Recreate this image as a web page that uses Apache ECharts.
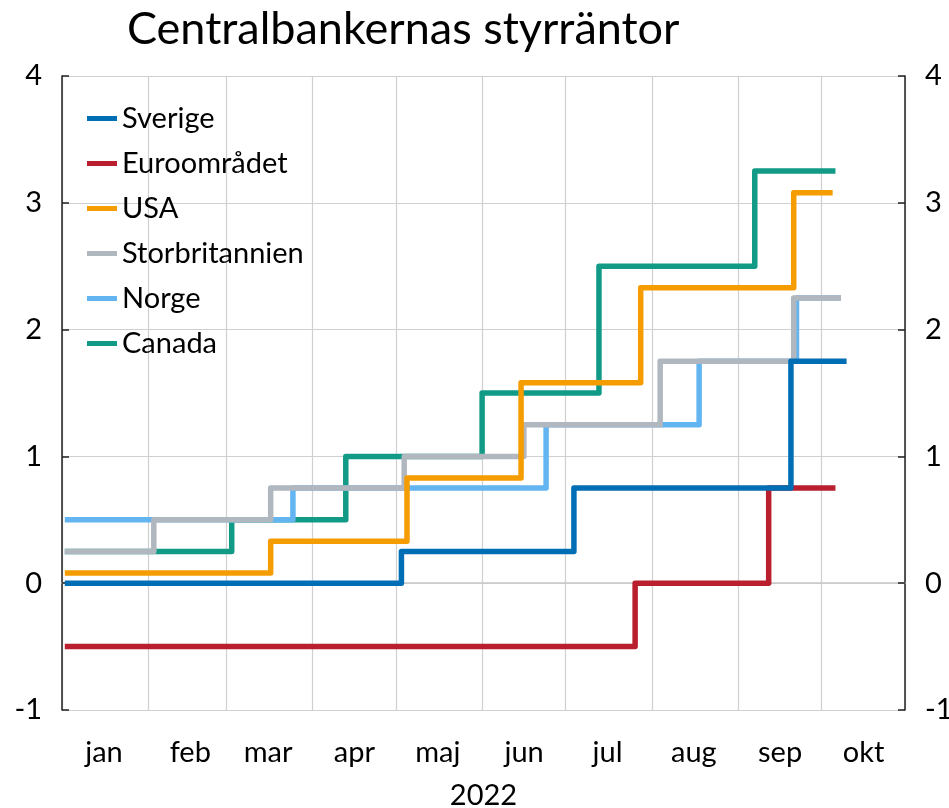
<!DOCTYPE html>
<html>
<head>
<meta charset="utf-8">
<script src="https://cdn.jsdelivr.net/npm/echarts@6/dist/echarts.min.js"></script>
<style>
  html, body { margin: 0; padding: 0; background: #fff; }
  #chart { width: 949px; height: 808px; }
</style>
</head>
<body>
<div id="chart"></div>
<script>
// month labels (Swedish)
const monthLabels = ["jan", "feb", "mar", "apr", "maj", "jun", "jul", "aug", "sep", "okt", "nov", "dec"];
const yTicks = [-1, 0, 1, 2, 3, 4];

// policy rates: date the new rate applies from, and the rate
const sverigeDates = ["2022-01-02", "2022-05-03", "2022-07-04", "2022-09-20", "2022-10-10"];
const sverigeValues = [0, 0.25, 0.75, 1.75, 1.75];

const euroDates = ["2022-01-02", "2022-07-26", "2022-09-12", "2022-10-06"];
const euroValues = [-0.5, 0, 0.75, 0.75];

const usaDates = ["2022-01-02", "2022-03-17", "2022-05-05", "2022-06-15", "2022-07-28", "2022-09-21", "2022-10-05"];
const usaValues = [0.08, 0.33, 0.83, 1.58, 2.33, 3.08, 3.08];

const ukDates = ["2022-01-02", "2022-02-03", "2022-03-17", "2022-05-04", "2022-06-16", "2022-08-04", "2022-09-21", "2022-10-08"];
const ukValues = [0.25, 0.5, 0.75, 1.0, 1.25, 1.75, 2.25, 2.25];

const norgeDates = ["2022-01-02", "2022-03-25", "2022-06-24", "2022-08-18", "2022-09-22", "2022-10-08"];
const norgeValues = [0.5, 0.75, 1.25, 1.75, 2.25, 2.25];

const canadaDates = ["2022-01-02", "2022-03-03", "2022-04-13", "2022-06-01", "2022-07-13", "2022-09-07", "2022-10-06"];
const canadaValues = [0.25, 0.5, 1.0, 1.5, 2.5, 3.25, 3.25];

const FONT = "Lato";

function pairs(dates, values) {
  return dates.map((d, i) => [d, values[i]]);
}

function stepSeries(name, dates, values, color) {
  return {
    name: name,
    type: "line",
    step: "end",
    symbol: "none",
    color: color,
    lineStyle: { width: 5.5, color: color, join: "round", cap: "butt" },
    data: pairs(dates, values),
  };
}

const chart = echarts.init(document.getElementById("chart"));

const yAxisCommon = {
  type: "value",
  min: -1,
  max: 4,
  interval: 1,
  axisLine: { show: true, lineStyle: { color: "#222", width: 1.5 } },
  axisTick: { show: true, inside: true, length: 7, lineStyle: { color: "#222", width: 1.5 } },
  axisLabel: {
    color: "#000",
    fontFamily: FONT,
    fontSize: 29,
    margin: 20,
    formatter: (v) => (yTicks.includes(v) ? String(v) : ""),
  },
};

const option = {
  animation: false,
  backgroundColor: "#fff",
  title: {
    text: "Centralbankernas styrräntor",
    left: 122,
    top: 2,
    textStyle: { fontFamily: FONT, fontSize: 45, fontWeight: "normal", color: "#000" },
  },
  legend: {
    orient: "vertical",
    left: 82,
    top: 99,
    icon: "rect",
    itemWidth: 30,
    itemHeight: 5,
    itemGap: 16,
    data: ["Sverige", "Euroområdet", "USA", "Storbritannien", "Norge", "Canada"],
    textStyle: { fontFamily: FONT, fontSize: 29, color: "#000", lineHeight: 29 },
  },
  grid: { left: 62, right: 44, top: 76, bottom: 98, outerBoundsMode: "none" },
  xAxis: {
    type: "time",
    min: "2022-01-01",
    max: "2022-10-31",
    splitNumber: 10,
    minInterval: 28 * 86400000,
    maxInterval: 31 * 86400000,
    name: "2022",
    nameLocation: "middle",
    nameGap: 71,
    nameTextStyle: { fontFamily: FONT, fontSize: 29, color: "#000" },
    axisLine: { show: true, lineStyle: { color: "#c8c8c8", width: 1.5 } },
    axisTick: { show: false },
    splitLine: { show: true, lineStyle: { color: "#d0d0d0", width: 1.2 } },
    axisLabel: {
      color: "#000",
      fontFamily: FONT,
      fontSize: 29,
      margin: 28,
      showMaxLabel: false,
      padding: [0, 0, 0, 84],
      formatter: (v) => {
        const d = new Date(v);
        return d.getDate() === 1 ? monthLabels[d.getMonth()] : "";
      },
    },
  },
  yAxis: [
    Object.assign({}, yAxisCommon, {
      position: "left",
      splitLine: { show: true, lineStyle: { color: "#d0d0d0", width: 1.2 } },
    }),
    Object.assign({}, yAxisCommon, {
      position: "right",
      splitLine: { show: false },
    }),
  ],
  // drawn back to front: Canada at the bottom, Sverige on top
  series: [
    stepSeries("Canada", canadaDates, canadaValues, "#119a85"),
    stepSeries("Norge", norgeDates, norgeValues, "#62b5f1"),
    stepSeries("Storbritannien", ukDates, ukValues, "#b0b7bf"),
    stepSeries("USA", usaDates, usaValues, "#f59c00"),
    stepSeries("Euroområdet", euroDates, euroValues, "#b91f2e"),
    stepSeries("Sverige", sverigeDates, sverigeValues, "#006eb5"),
  ],
};

chart.setOption(option);
</script>
</body>
</html>
